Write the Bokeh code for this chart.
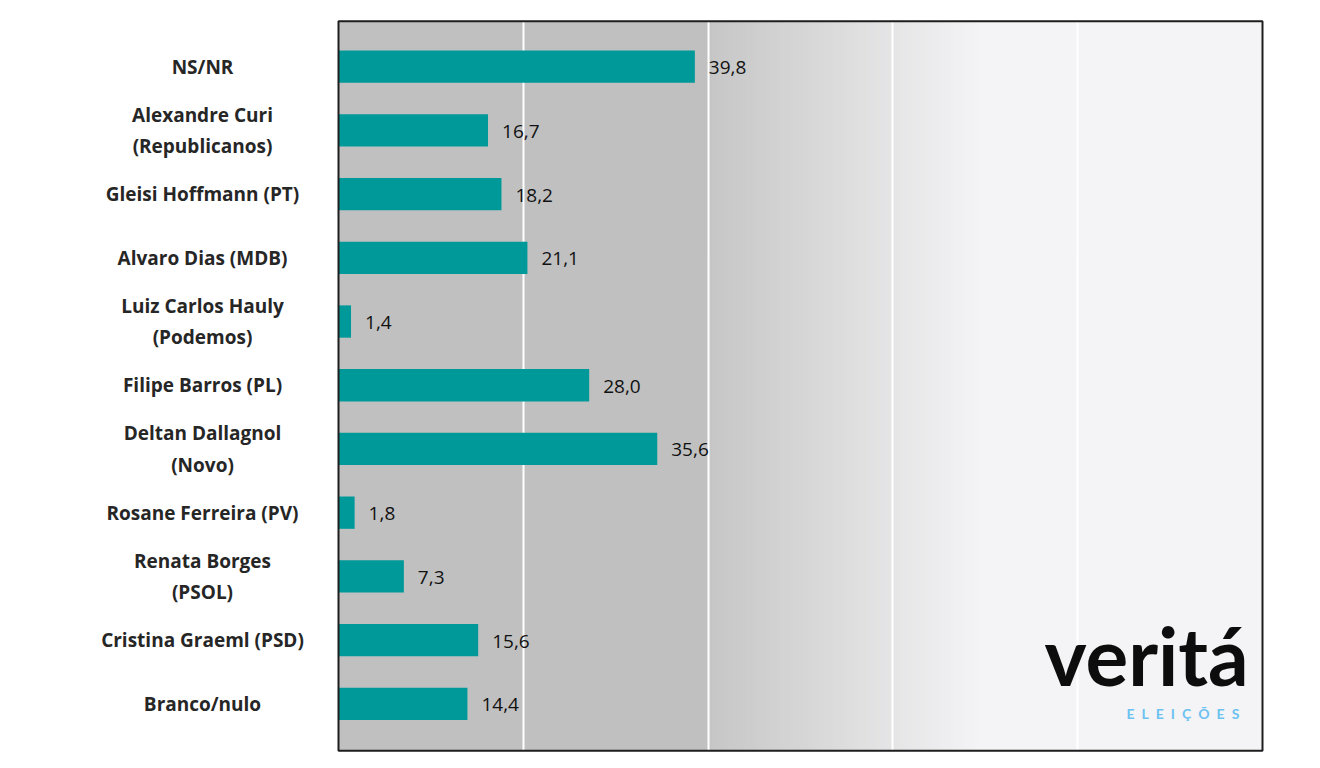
from bokeh.plotting import figure
from bokeh.models import Range1d, Grid, FixedTicker, ColumnDataSource
from bokeh.embed import file_html
from bokeh.resources import INLINE
from bokeh.core.properties import value

# ---- data ----
categories = [
    "NS/NR",
    "Alexandre Curi\n(Republicanos)",
    "Gleisi Hoffmann (PT)",
    "Alvaro Dias (MDB)",
    "Luiz Carlos Hauly\n(Podemos)",
    "Filipe Barros (PL)",
    "Deltan Dallagnol\n(Novo)",
    "Rosane Ferreira (PV)",
    "Renata Borges\n(PSOL)",
    "Cristina Graeml (PSD)",
    "Branco/nulo",
]
values = [39.8, 16.7, 18.2, 21.1, 1.4, 28.0, 35.6, 1.8, 7.3, 15.6, 14.4]
value_labels = [f"{v:.1f}".replace(".", ",") for v in values]
logo_text = "veritá"
logo_sub = "ELEIÇÕES"

# ---- layout constants ----
XMAX = 103.2                 # right edge of plotting area (data units)
PX = 924.0 / XMAX            # pixels per data unit
LEFT_PX = 338                # pixels left of x=0 in the frame
FIG_W, FIG_H = 1290, 764
ROW_PX = 63.71
TOP_PX = 66.2                # pixels from frame top to first row centre
Y_TOP, Y_BOT = -0.715, 10.735  # plotting area edges (row units)

x_start = -LEFT_PX / PX
x_end = (FIG_W - LEFT_PX) / PX
y_top_frame = -TOP_PX / ROW_PX
y_bot_frame = y_top_frame + FIG_H / ROW_PX


def px_x(px):
    return (px - LEFT_PX) / PX


def px_y(px):
    return (px - TOP_PX) / ROW_PX


p = figure(width=FIG_W, height=FIG_H, output_backend="svg", toolbar_location=None,
           x_range=Range1d(x_start, x_end), y_range=Range1d(y_bot_frame, y_top_frame),
           x_axis_location=None, y_axis_location=None,
           min_border=0, min_border_left=0, min_border_right=0,
           min_border_top=0, min_border_bottom=0)
p.outline_line_color = None
p.background_fill_color = "white"
p.border_fill_color = "white"
p.grid.visible = False

# ---- background gradient of the plotting area ----
N = 240
w = XMAX / N
lefts, rights, cols = [], [], []
c0 = (198, 198, 198)
c1 = (243, 243, 245)
for i in range(N):
    xl = i * w
    t = (xl + w / 2) / XMAX
    if t < 0.40:
        c = (192, 192, 192)
    elif t > 0.69:
        c = (244, 244, 246)
    else:
        f = (t - 0.40) / 0.29
        c = tuple(int(round(c0[k] + (c1[k] - c0[k]) * f)) for k in range(3))
    lefts.append(xl)
    rights.append(min(xl + w * 1.6, XMAX))
    cols.append("#%02x%02x%02x" % c)
p.quad(left=lefts, right=rights, top=Y_TOP, bottom=Y_BOT, fill_color=cols,
       line_color=None, level="image")

# ---- grid lines ----
grid = Grid(dimension=0, ticker=FixedTicker(ticks=[XMAX * k / 5 for k in range(1, 5)]),
            grid_line_color="white", grid_line_width=2)
p.add_layout(grid)

# ---- bars ----
idx = list(range(len(categories)))
src = ColumnDataSource(dict(y=idx, v=values, lab=value_labels, cat=categories))
p.hbar(y="y", right="v", left=0, height=0.507, source=src,
       fill_color="#009999", line_color=None)

# ---- value labels ----
p.text(x="v", y="y", text="lab", source=src, x_offset=14, y_offset=1,
       text_align="left", text_baseline="middle",
       text_font=value("Open Sans"), text_font_size="19px", text_color="#111111")

# ---- category labels ----
p.text(x=px_x(202), y="y", text="cat", source=src,
       text_align="center", text_baseline="middle", text_line_height=1.2,
       text_font=value("Open Sans"), text_font_size="19px", text_font_style="bold",
       text_color="#262626")

# ---- frame border ----
p.quad(left=0, right=XMAX, top=Y_TOP, bottom=Y_BOT, fill_alpha=0,
       line_color="#1e1e1e", line_width=2)

# ---- logo ----
p.text(x=[px_x(1044)], y=[px_y(654)], text=[logo_text],
       text_align="left", text_baseline="alphabetic",
       text_font=value("Lato"), text_font_size="80px", text_font_style="bold",
       text_color="#0d0d0d")
p.text(x=[px_x(1126)], y=[px_y(713)], text=["\u2002".join(logo_sub)],
       text_align="left", text_baseline="middle",
       text_font=value("Lato"), text_font_size="14px", text_font_style="bold",
       text_color="#6cc2f0")

open("out.html", "w").write(file_html(p, INLINE))
